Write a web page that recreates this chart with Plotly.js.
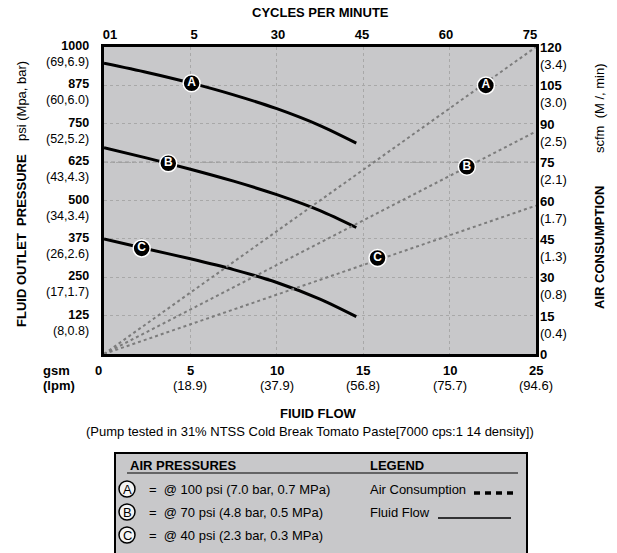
<!DOCTYPE html>
<html>
<head>
<meta charset="utf-8">
<script src="https://cdn.plot.ly/plotly-3.0.1.min.js"></script>
<style>html,body{margin:0;padding:0;background:#fff;}#chart{width:617px;height:553px;}</style>
</head>
<body>
<div id="chart"></div>
<script>
// ---------- data ----------
const gpmTicks = [0, 5, 10, 15, 20, 25];
const gpmLabels = ['0', '5', '10', '15', '10', '25'];
const lpmLabels = ['', '(18.9)', '(37.9)', '(56.8)', '(75.7)', '(94.6)'];
const cyclesLabels = ['01', '5', '30', '45', '60', '75'];

const psiTicks = [1000, 875, 750, 625, 500, 375, 250, 125];
const psiMetric = ['(69,6.9)', '(60,6.0)', '(52,5.2)', '(43,4.3)', '(34,3.4)', '(26,2.6)', '(17,1.7)', '(8,0.8)'];
const scfmTicks = [120, 105, 90, 75, 60, 45, 30, 15, 0];
const scfmMetric = ['(3.4)', '(3.0)', '(2.5)', '(2.1)', '(1.7)', '(1.3)', '(0.8)', '(0.4)', ''];

// fluid flow curves: gpm vs psi
const flowGpm = [0, 2.5, 5, 7.5, 10, 12.5, 14.6];
const psiA = [947, 917, 883, 844, 799, 744, 687];
const psiB = [672, 638, 602, 563, 519, 467, 412];
const psiC = [375, 342, 310, 275, 233, 179, 122];

// air consumption lines: gpm vs scfm
const airGpm = [0, 25];
const scfmA = [0, 120];
const scfmB = [0, 87];
const scfmC = [0, 58];

const seriesNames = ['A', 'B', 'C'];
const curveLabelGpm = [5.07, 3.72, 2.18];
const curveLabelPsi = [882, 621, 344];
const airLabelGpm = [22.1, 21.0, 15.83];
const airLabelScfm = [105, 73.2, 37.5];

const pressureTexts = ['@ 100 psi (7.0 bar, 0.7 MPa)', '@ 70 psi (4.8 bar, 0.5 MPa)', '@ 40 psi (2.3 bar, 0.3 MPa)'];

// ---------- layout helpers (pixel -> paper) ----------
const W = 617, H = 553, L = 104, R = 81, T = 47, B = 199;
const PW = W - L - R, PH = H - T - B;
const px = v => (v - L) / PW;
const py = v => (H - B - v) / PH;
const FONT = 'Liberation Sans, Arial, sans-serif';
const BG = '#c8c8ca';

const traces = [];
[scfmA, scfmB, scfmC].forEach(s => traces.push({
  x: airGpm, y: s, xaxis: 'x', yaxis: 'y2', mode: 'lines', hoverinfo: 'skip',
  line: {color: '#7c7c7c', width: 2, dash: 'dot'}, showlegend: false
}));
[psiA, psiB, psiC].forEach(s => traces.push({
  x: flowGpm, y: s, xaxis: 'x', yaxis: 'y', mode: 'lines', hoverinfo: 'skip',
  line: {color: '#000', width: 3, shape: 'spline', smoothing: 0.8}, showlegend: false
}));
const badge = {
  mode: 'markers+text', hoverinfo: 'skip', showlegend: false,
  text: seriesNames.map(s => '<b>' + s + '</b>'), textposition: 'middle center',
  textfont: {family: FONT, size: 12, color: '#fff'},
  marker: {size: 17, color: '#000', line: {color: '#fff', width: 1.5}}
};
traces.push(Object.assign({}, badge, {x: curveLabelGpm, y: curveLabelPsi, xaxis: 'x', yaxis: 'y'}));
traces.push(Object.assign({}, badge, {x: airLabelGpm, y: airLabelScfm, xaxis: 'x', yaxis: 'y2'}));
traces.push({x: [gpmTicks[0], gpmTicks[gpmTicks.length - 1]], y: [null, null], xaxis: 'x2', yaxis: 'y', mode: 'lines', showlegend: false, hoverinfo: 'skip'});

const annotations = [];
const shapes = [];
const txt = (x, y, text, opts) => annotations.push(Object.assign({
  xref: 'paper', yref: 'paper', x: x, y: y, xanchor: 'left', yanchor: 'middle', showarrow: false,
  text: text, font: {family: FONT, size: 13, color: '#000'}
}, opts || {}));

// left tick labels
psiTicks.forEach((v, i) => annotations.push({
  xref: 'paper', yref: 'y', x: px(91), y: v, xanchor: 'right', yanchor: 'top', yshift: 10,
  align: 'right', showarrow: false,
  text: '<b>' + v + '</b><br>' + psiMetric[i],
  font: {family: FONT, size: 12.5, color: '#000'}
}));
// right tick labels
scfmTicks.forEach((v, i) => annotations.push({
  xref: 'paper', yref: 'y2', x: px(538), y: v, xanchor: 'left', yanchor: 'top', yshift: 9,
  align: 'left', showarrow: false,
  text: '<b>' + v + '</b>' + (scfmMetric[i] ? '<br>' + scfmMetric[i] : ''),
  font: {family: FONT, size: 13, color: '#000'}
}));
// bottom tick labels
gpmTicks.forEach((v, i) => {
  annotations.push({
    xref: 'x', yref: 'paper', x: v, y: py(370), xanchor: 'center', yanchor: 'middle',
    showarrow: false, xshift: i === 0 ? -6 : 0,
    text: '<b>' + gpmLabels[i] + '</b>', font: {family: FONT, size: 13, color: '#000'}
  });
  if (lpmLabels[i]) annotations.push({
    xref: 'x', yref: 'paper', x: v, y: py(385), xanchor: 'center', yanchor: 'middle',
    showarrow: false, text: lpmLabels[i], font: {family: FONT, size: 13, color: '#000'}
  });
});
txt(px(41), py(370), '<b>gsm</b>');
txt(px(41), py(385), '<b>(lpm)</b>');

// titles
txt(0.5, py(13), '<b>CYCLES PER MINUTE</b>', {xanchor: 'center'});
txt(px(318), py(413), '<b>FIUID FLOW</b>', {xanchor: 'center'});
txt(px(310), py(431), '(Pump tested in 31% NTSS Cold Break Tomato Paste[7000 cps:1 14 density])', {xanchor: 'center'});
txt(px(21), py(241), '<b>FLUID OUTLET  PRESSURE</b>', {xanchor: 'center', textangle: -90});
txt(px(21), py(101), 'psi (Mpa, bar)', {xanchor: 'center', textangle: -90});
txt(px(599), py(247), '<b>AIR CONSUMPTION</b>', {xanchor: 'center', textangle: -90});
txt(px(599), py(108), 'scfm  (M /, min)', {xanchor: 'center', textangle: -90});

// highlighted 625 gridline
shapes.push({type: 'line', xref: 'paper', yref: 'y', x0: 0, x1: 1, y0: psiTicks[3], y1: psiTicks[3],
  line: {color: '#888', width: 1, dash: '4px,3px'}, layer: 'below'});

// legend box
shapes.push({type: 'rect', xref: 'paper', yref: 'paper', x0: px(115), x1: px(527), y0: py(453), y1: py(565),
  fillcolor: BG, line: {color: '#000', width: 2}, layer: 'above'});
shapes.push({type: 'line', xref: 'paper', yref: 'paper', x0: px(127), x1: px(518), y0: py(473), y1: py(473),
  line: {color: '#000', width: 1}});
txt(px(128), py(465), '<b>AIR PRESSURES</b>');
txt(px(368), py(465), '<b>LEGEND</b>');
const rowY = [489, 512, 535];
seriesNames.forEach((s, i) => {
  shapes.push({type: 'circle', xref: 'paper', yref: 'paper', x0: px(119), x1: px(135), y0: py(rowY[i] - 8), y1: py(rowY[i] + 8),
    line: {color: '#000', width: 1.5}, fillcolor: '#f4f4f4'});
  txt(px(127), py(rowY[i]), s, {xanchor: 'center'});
  txt(px(147), py(rowY[i]), '=  ' + pressureTexts[i]);
});
txt(px(368), py(rowY[0]), 'Air Consumption');
txt(px(368), py(rowY[1]), 'Fluid Flow');
shapes.push({type: 'line', xref: 'paper', yref: 'paper', x0: px(474), x1: px(518), y0: py(493), y1: py(493),
  line: {color: '#000', width: 3.5, dash: '6px,5px'}});
shapes.push({type: 'line', xref: 'paper', yref: 'paper', x0: px(438), x1: px(511), y0: py(518), y1: py(518),
  line: {color: '#000', width: 1.5}});

const grid = {showgrid: true, gridcolor: '#a8a8a8', gridwidth: 1, griddash: '3px,3px'};
const layout = {
  width: W, height: H,
  margin: {l: L, r: R, t: T, b: B, pad: 0},
  paper_bgcolor: '#fff', plot_bgcolor: BG,
  font: {family: FONT, size: 13, color: '#000'},
  showlegend: false,
  xaxis: Object.assign({range: [0, 25], tickvals: gpmTicks, showticklabels: false, ticks: '',
    showline: true, linecolor: '#000', linewidth: 3, zeroline: false}, grid),
  xaxis2: {overlaying: 'x', side: 'top', anchor: 'y', range: [-0.357, 25.357], tickvals: gpmTicks,
    ticktext: cyclesLabels.map(c => '<b>' + c + '</b>'), ticks: '', showgrid: false,
    showline: true, linecolor: '#000', linewidth: 3, zeroline: false, tickfont: {family: FONT, size: 13, color: '#000'}},
  yaxis: Object.assign({range: [0, 1000], tickvals: psiTicks, showticklabels: false, ticks: '',
    showline: true, linecolor: '#000', linewidth: 3, zeroline: false}, grid),
  yaxis2: {overlaying: 'y', side: 'right', anchor: 'x', range: [0, 120], tickvals: scfmTicks, showticklabels: false,
    ticks: '', showgrid: false, showline: true, linecolor: '#000', linewidth: 3, zeroline: false},
  annotations: annotations,
  shapes: shapes
};
Plotly.newPlot('chart', traces, layout, {staticPlot: true, displayModeBar: false});
</script>
</body>
</html>
